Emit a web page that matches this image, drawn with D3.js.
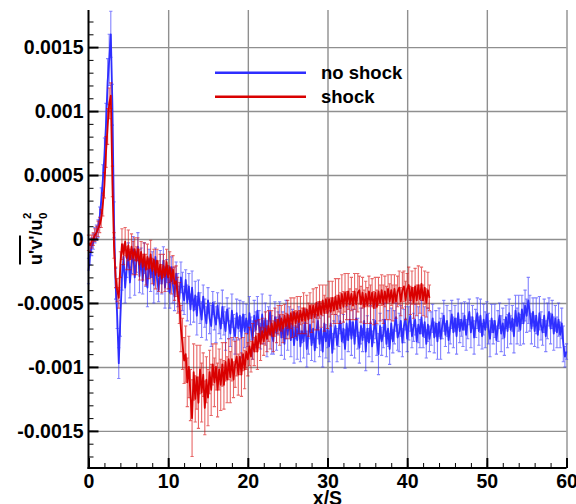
<!DOCTYPE html>
<html><head><meta charset="utf-8">
<script src="https://cdn.jsdelivr.net/npm/d3@7"></script>
<style>body{margin:0;background:#fff} svg{display:block}</style>
</head><body>
<script>
// values in units of 1e-5 (u'v'/u0^2), sampled every 0.2 x/S starting at 0
const UNIT = 1e-5;
const STEP = 0.2;
const seriesNames = ["no shock", "shock"];
const blueVals = [
-25,-12,-6,-2,3,  5,8,17,30,46,  65,90,123,140,160,  105,15,-35,-60,-97,
-62,-30,-14,-38,-22,  -12,-34,-20,-8,-30,  -18,-6,-29,-14,-33,  -15,-28,-38,-16,-30,
-20,-36,-14,-31,-40,  -22,-35,-17,-38,-25,  -31,-42,-22,-36,-45,  -27,-40,-47,-30,-41,
-48,-32,-50,-37,-55,  -38,-56,-44,-60,-42,  -54,-63,-45,-58,-66,  -48,-62,-68,-50,-60,
-67,-52,-62,-70,-53,  -64,-72,-55,-66,-74,  -56,-69,-76,-58,-70,  -60,-77,-59,-72,-62,
-74,-58,-70,-79,-60,  -71,-56,-68,-76,-59,  -73,-62,-78,-64,-57,  -75,-80,-61,-74,-66,
-60,-77,-67,-82,-63,  -75,-62,-79,-66,-83,  -68,-79,-64,-84,-72,  -80,-65,-86,-74,-67,
-83,-70,-87,-72,-64,  -82,-70,-88,-66,-80,  -71,-84,-66,-89,-75,  -68,-83,-72,-64,-80,
-70,-86,-66,-79,-63,  -78,-65,-82,-62,-74,  -85,-68,-79,-64,-88,  -70,-81,-65,-84,-72,
-64,-79,-90,-68,-80,  -74,-63,-82,-70,-86,  -66,-80,-69,-61,-77,  -73,-64,-81,-68,-62,
-78,-66,-60,-76,-69,  -63,-80,-67,-74,-61,  -76,-65,-82,-67,-78,  -70,-62,-77,-66,-80,
-65,-78,-68,-60,-75,  -64,-79,-69,-59,-73,  -62,-76,-58,-72,-63,  -71,-60,-75,-64,-57,
-73,-61,-77,-66,-58,  -72,-60,-76,-63,-71,  -59,-70,-78,-62,-73,  -64,-79,-68,-60,-74,
-66,-77,-61,-72,-58,  -71,-62,-76,-56,-68,  -58,-71,-55,-66,-52,  -60,-48,-58,-70,-57,
-72,-60,-75,-58,-68,  -73,-60,-76,-64,-57,  -70,-59,-74,-62,-73,  -63,-75,-66,-82,-92,
-88
];
const blueErr = [
10,8,7,6,6,  6,7,8,10,12,  14,16,18,20,18,  16,14,12,10,12,
14,10,9,12,8,  9,12,7,10,14,  8,11,13,7,10,  12,9,15,8,11,
10,14,7,12,9,  13,8,11,16,9,  10,12,8,14,11,  9,13,10,12,15,
11,8,14,10,12,  13,9,11,15,10,  12,14,9,11,13,  10,12,16,9,11,
14,10,12,8,13,  11,15,9,12,10,  13,10,14,11,9,  12,16,10,13,11,
10,13,9,15,12,  14,11,12,10,16,  9,12,14,11,13,  15,10,12,13,9,
11,14,10,12,15,  12,9,13,11,14,  10,15,11,12,9,  13,10,14,16,11,
12,11,9,13,14,  10,17,12,11,13,  14,12,10,15,11,  9,13,12,10,14,
11,15,13,9,12,  13,10,11,14,12,  12,14,9,13,15,  10,11,13,12,9,
14,12,16,10,11,  11,13,10,14,12,  12,9,13,11,10,  15,12,11,13,9,
10,13,12,9,11,  12,10,14,11,13,  9,12,11,13,10,  13,11,12,10,14,
11,16,10,12,9,  12,10,13,11,12,  10,14,11,9,13,  13,11,12,14,10,
12,9,13,11,12,  11,13,10,12,14,  10,12,14,11,9,  13,11,12,10,14,
12,14,9,13,11,  11,10,13,12,14,  14,12,11,16,12,  13,18,14,12,11,
12,14,10,13,11,  10,13,12,14,11,  12,11,13,10,12,  13,10,12,14,8,
6
];
const redVals = [
-3,-5,-2,0,3,  5,8,11,16,27,  42,68,88,106,112,  45,-5,-30,-40,-46,
-20,-4,-12,-2,-15,  -5,-16,-6,-15,-8,  -17,-8,-20,-10,-22,  -12,-24,-14,-23,-12,
-25,-16,-28,-17,-29,  -20,-31,-21,-29,-18,  -30,-22,-33,-24,-35,  -33,-44,-50,-70,-82,
-95,-90,-112,-100,-122,  -140,-104,-125,-108,-128,  -102,-120,-106,-132,-110,  -124,-104,-118,-98,-112,
-100,-118,-102,-114,-98,  -114,-96,-110,-94,-108,  -94,-110,-98,-92,-106,  -92,-106,-90,-102,-88,
-94,-84,-92,-80,-88,  -76,-88,-74,-82,-72,  -80,-70,-78,-68,-75,  -66,-76,-65,-72,-63,
-71,-62,-70,-60,-68,  -59,-69,-58,-67,-57,  -66,-57,-65,-56,-64,  -54,-64,-55,-63,-52,
-62,-52,-61,-50,-60,  -49,-59,-48,-58,-47,  -58,-47,-57,-46,-56,  -45,-55,-44,-54,-43,
-53,-42,-52,-41,-51,  -43,-52,-41,-51,-42,  -40,-51,-42,-53,-43,  -52,-41,-51,-42,-54,
-42,-53,-41,-50,-40,  -51,-41,-50,-39,-49,  -40,-50,-39,-49,-41,  -38,-49,-40,-37,-48,
-39,-36,-48,-38,-50,  -37,-48,-36,-47,-35,  -48,-38,-50,-40,-46
];
const redErr = [
6,5,5,5,5,  5,6,6,7,9,  10,12,14,12,10,  12,10,8,9,8,
10,12,8,11,9,  12,8,10,13,9,  11,9,12,8,10,  9,12,10,8,11,
10,8,11,9,12,  8,11,9,12,10,  9,12,10,11,13,  12,14,16,18,20,
18,22,19,24,20,  30,22,18,25,20,  19,23,17,21,18,  22,17,20,16,19,
18,21,16,20,17,  19,15,18,16,20,  17,14,18,15,16,  14,17,13,15,14,
13,15,12,14,11,  12,14,11,13,10,  11,13,10,12,11,  10,12,11,9,11,
12,10,11,9,10,  11,9,12,10,11,  10,12,9,11,10,  12,10,11,13,10,
11,13,10,12,11,  13,10,12,14,11,  12,14,11,13,10,  14,11,13,12,15,
12,15,11,14,12,  13,11,14,12,15,  11,14,12,13,10,  14,12,15,11,13,
12,13,11,14,12,  15,12,13,11,14,  12,14,11,13,12,  13,11,14,12,15,
12,14,11,13,12,  14,12,15,11,13,  12,13,11,14,10
];
const xTicks = [0, 10, 20, 30, 40, 50, 60];
const xMinorTicks = d3.range(0, 61, 2);
const yTicks = [0.0015, 0.001, 0.0005, 0, -0.0005, -0.001, -0.0015];
const yTickLabels = ["0.0015", "0.001", "0.0005", "0", "-0.0005", "-0.001", "-0.0015"];
const yMinorTicks = d3.range(-17, 18).map(k => k * 0.0001);

const W = 576, H = 504;
const FONT = "'Liberation Sans', Arial, Helvetica, sans-serif";
const L = 88.5, R = 566.5, T = 10, B = 468;
const svg = d3.select("body").append("svg").attr("width", W).attr("height", H)
  .style("font-family", FONT);

const x = d3.scaleLinear().domain([0, 60]).range([L, R]);
const y = d3.scaleLinear().domain([-0.00179, 0.00179]).range([B, T]);

// grid
const gridCol = "#8f8f8f";
svg.append("g").attr("transform", `translate(0,${B})`)
  .call(d3.axisBottom(x).tickValues(xTicks.slice(1)).tickSize(-(B - T)).tickFormat(""))
  .call(g => { g.select(".domain").remove(); g.selectAll("line").attr("stroke", gridCol).attr("stroke-width", 1.4); });
svg.append("g").attr("transform", `translate(${L},0)`)
  .call(d3.axisLeft(y).tickValues(yTicks).tickSize(-(R - L)).tickFormat(""))
  .call(g => { g.select(".domain").remove(); g.selectAll("line").attr("stroke", gridCol).attr("stroke-width", 1.4); });

// series
function mk(vals, errs) { return vals.map((v, i) => ({ x: i * STEP, v: v * UNIT, e: errs[i] * UNIT })); }
const blue = mk(blueVals, blueErr), red = mk(redVals, redErr);
const line = d3.line().x(d => x(d.x)).y(d => y(d.v));
function drawSeries(data, col) {
  const g = svg.append("g");
  g.append("path").attr("fill", "none").attr("stroke", col).attr("stroke-opacity", 0.6).attr("stroke-width", 1.1)
    .attr("d", data.map(d => {
      const xa = x(d.x), y1 = y(d.v - d.e), y2 = y(d.v + d.e);
      return `M${xa},${y1}V${y2}M${xa - 1.6},${y1}h3.2M${xa - 1.6},${y2}h3.2`;
    }).join(""));
  g.append("path").datum(data).attr("fill", "none").attr("stroke", col).attr("stroke-width", 1.8)
    .attr("stroke-linejoin", "round").attr("d", line);
}
const BLUE = "#2e2eff", RED = "#d90000";
drawSeries(blue, BLUE);
drawSeries(red, RED);

// axes: major and minor ticks inward
function styleAxis(g, w) { g.select(".domain").remove(); g.selectAll("line").attr("stroke", "#000").attr("stroke-width", w); }
svg.append("g").attr("transform", `translate(0,${B})`)
  .call(d3.axisBottom(x).tickValues(xMinorTicks).tickSize(-5).tickFormat(""))
  .call(g => styleAxis(g, 1));
svg.append("g").attr("transform", `translate(${L},0)`)
  .call(d3.axisLeft(y).tickValues(yMinorTicks).tickSize(-5).tickFormat(""))
  .call(g => styleAxis(g, 1));
svg.append("g").attr("transform", `translate(0,${B})`)
  .call(d3.axisBottom(x).tickValues(xTicks).tickSize(-10).tickPadding(14).tickFormat(d3.format("d")))
  .call(g => { styleAxis(g, 2); g.selectAll("text").attr("font-size", 19.5).attr("font-weight", "bold").attr("fill", "#000").attr("font-family", FONT).attr("dy", "0.3em"); });
svg.append("g").attr("transform", `translate(${L},0)`)
  .call(d3.axisLeft(y).tickValues(yTicks).tickSize(-10).tickPadding(5).tickFormat((d, i) => yTickLabels[i]))
  .call(g => { styleAxis(g, 2); g.selectAll("text").attr("font-size", 19.5).attr("font-weight", "bold").attr("fill", "#000").attr("font-family", FONT); });
// axis lines
svg.append("line").attr("x1", L).attr("x2", L).attr("y1", T).attr("y2", B + 1).attr("stroke", "#000").attr("stroke-width", 2);
svg.append("line").attr("x1", L - 1).attr("x2", R).attr("y1", B).attr("y2", B).attr("stroke", "#000").attr("stroke-width", 2);

// x label
svg.append("text").attr("x", x(30)).attr("y", 505).attr("text-anchor", "middle")
  .attr("font-size", 19.5).attr("font-weight", "bold").text("x/S");

// y label
const yl = svg.append("g").attr("transform", "translate(42,265) rotate(-90)");
const yt = yl.append("text").attr("font-size", 18).attr("font-weight", "bold");
const t1 = yt.append("tspan").text("u'v'");
yt.append("tspan").text("/u");
const tl = yt.node().getComputedTextLength();
const w1 = t1.node().getComputedTextLength();
yl.append("text").attr("x", tl + 0.5).attr("y", 5).attr("font-size", 11.5).attr("font-weight", "bold").text("0");
yl.append("text").attr("x", tl + 0.5).attr("y", -11).attr("font-size", 11.5).attr("font-weight", "bold").text("2");
yl.append("line").attr("x1", 0.5).attr("x2", w1).attr("y1", -22).attr("y2", -22).attr("stroke", "#000").attr("stroke-width", 2);

// legend
const leg = svg.append("g");
[[BLUE, seriesNames[0], 72.7], [RED, seriesNames[1], 96.7]].forEach(([c, n, ly]) => {
  leg.append("line").attr("x1", 215).attr("x2", 306).attr("y1", ly).attr("y2", ly).attr("stroke", c).attr("stroke-width", 2.5);
  leg.append("text").attr("x", 321).attr("y", ly + 6.5).attr("font-size", 18.5).attr("font-weight", "bold").text(n);
});
</script>
</body></html>
